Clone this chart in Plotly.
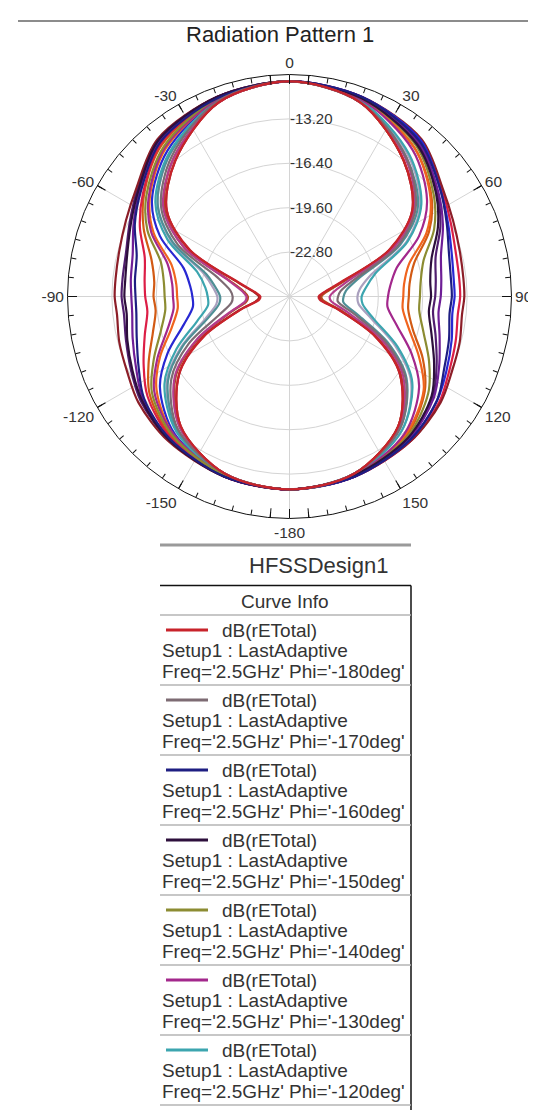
import plotly.graph_objects as go

W, H = 536, 1110

# ---------------- data ----------------
THETA_HALF = [0, 20, 40, 55, 65, 75, 84, 90, 96, 105, 115, 125, 140, 160, 180]

ANG_TICKVALS = [0, 30, 60, 90, 120, 150, 180, 210, 240, 270, 300, 330]
ANG_TICKTEXT = ['0', '30', '60', '90', '120', '150', '-180', '-150', '-120', '-90', '-60', '-30']
RAD_TICKVALS = [-22.8, -19.6, -16.4, -13.2]
RAD_TICKTEXT = ['-22.80', '-19.60', '-16.40', '-13.20']
RAD_RANGE = [-26, -10]

PHI_LABELS = ['-180', '-170', '-160', '-150', '-140', '-130', '-120', '-110', '-100', '-90',
              '-80', '-70', '-60', '-50', '-40', '-30', '-20', '-10', '0']
CURVE_COLORS = ['#c8232b', '#7d6b73', '#1e1e82', '#2d0f3c', '#8c8c32', '#a3288c', '#3ca5af',
                '#f0641e', '#2828d2', '#8c1e28', '#6e1e96', '#dc1e46', '#501e6e', '#d25a14',
                '#4f8f96', '#aaa0be', '#b43c8c', '#b4461e', '#a01e1e']
LEGEND_COUNT = 7

# dB(rETotal) at THETA_HALF, right side (theta >= 0) and left side (theta <= 0)
db_m180_r = [-10.5, -11.1, -13.2, -15.2, -18.1, -22.3, -23.6, -23.9, -23.8, -22.4, -19.2, -16.3, -13.8, -12.4, -12.1]
db_m180_l = [-10.5, -11.1, -13.2, -15.2, -18.1, -22.3, -23.6, -23.9, -23.8, -22.4, -19.2, -16.3, -13.8, -12.4, -12.1]
db_m170_r = [-10.5, -11.1, -12.9, -14.9, -17.4, -21.1, -22.3, -22.5, -22.5, -21.2, -18.4, -15.8, -13.6, -12.4, -12.1]
db_m170_l = [-10.5, -11.0, -12.8, -14.7, -17.1, -20.6, -21.7, -21.9, -21.8, -20.7, -18.0, -15.6, -13.5, -12.4, -12.1]
db_m160_r = [-10.5, -10.7, -11.4, -12.7, -13.5, -14.1, -14.3, -14.3, -14.4, -14.1, -13.7, -13.0, -12.5, -12.2, -12.1]
db_m160_l = [-10.5, -10.8, -11.5, -12.9, -13.7, -14.6, -14.8, -14.9, -14.9, -14.6, -14.0, -13.2, -12.6, -12.2, -12.1]
db_m150_r = [-10.5, -10.8, -11.7, -13.1, -14.2, -15.4, -15.8, -15.8, -15.9, -15.4, -14.5, -13.5, -12.7, -12.3, -12.1]
db_m150_l = [-10.5, -10.7, -11.3, -12.7, -13.4, -13.9, -14.1, -14.1, -14.2, -13.9, -13.5, -13.0, -12.5, -12.2, -12.1]
db_m140_r = [-10.5, -10.8, -11.8, -13.3, -14.5, -16.0, -16.5, -16.6, -16.6, -16.0, -14.9, -13.8, -12.8, -12.3, -12.1]
db_m140_l = [-10.5, -10.8, -11.9, -13.4, -14.7, -16.4, -16.9, -17.0, -17.0, -16.4, -15.2, -13.9, -12.9, -12.3, -12.1]
db_m130_r = [-10.5, -10.9, -12.2, -13.9, -15.7, -18.0, -18.7, -18.9, -18.9, -18.0, -16.3, -14.6, -13.1, -12.3, -12.1]
db_m130_l = [-10.5, -10.9, -12.0, -13.6, -15.0, -16.9, -17.5, -17.6, -17.6, -16.9, -15.5, -14.1, -13.0, -12.3, -12.1]
db_m120_r = [-10.5, -11.0, -12.6, -14.4, -16.6, -19.6, -20.5, -20.8, -20.7, -19.7, -17.4, -15.2, -13.4, -12.3, -12.1]
db_m120_l = [-10.5, -11.0, -12.5, -14.2, -16.3, -19.1, -19.9, -20.1, -20.1, -19.1, -17.0, -15.0, -13.3, -12.3, -12.1]
db_m110_r = [-10.5, -10.9, -12.0, -13.6, -15.1, -17.1, -17.7, -17.8, -17.8, -17.1, -15.7, -14.2, -13.0, -12.3, -12.1]
db_m110_l = [-10.5, -10.9, -12.1, -13.7, -15.2, -17.2, -17.8, -17.9, -17.9, -17.2, -15.7, -14.3, -13.0, -12.3, -12.1]
db_m100_r = [-10.5, -10.7, -11.3, -12.7, -13.4, -13.9, -14.1, -14.1, -14.2, -13.9, -13.5, -13.0, -12.5, -12.2, -12.1]
db_m100_l = [-10.5, -10.9, -12.3, -13.9, -15.7, -18.1, -18.8, -19.0, -19.0, -18.1, -16.3, -14.6, -13.1, -12.3, -12.1]
db_m90_r = [-10.5, -10.7, -11.2, -12.5, -13.0, -13.3, -13.4, -13.4, -13.5, -13.3, -13.1, -12.7, -12.4, -12.2, -12.1]
db_m90_l = [-10.5, -10.7, -11.2, -12.5, -13.0, -13.3, -13.4, -13.4, -13.5, -13.3, -13.1, -12.7, -12.4, -12.2, -12.1]
db_m80_r = [-10.5, -10.8, -11.5, -12.9, -13.8, -14.7, -15.0, -15.1, -15.2, -14.8, -14.1, -13.3, -12.6, -12.2, -12.1]
db_m80_l = [-10.5, -10.7, -11.4, -12.8, -13.6, -14.3, -14.5, -14.6, -14.6, -14.3, -13.8, -13.1, -12.6, -12.2, -12.1]
db_m70_r = [-10.5, -10.7, -11.3, -12.6, -13.2, -13.6, -13.7, -13.7, -13.8, -13.6, -13.3, -12.8, -12.4, -12.2, -12.1]
db_m70_l = [-10.5, -10.8, -11.6, -13.1, -14.1, -15.2, -15.5, -15.6, -15.7, -15.2, -14.4, -13.5, -12.7, -12.2, -12.1]
db_m60_r = [-10.5, -10.8, -11.6, -13.0, -14.0, -15.1, -15.4, -15.5, -15.6, -15.1, -14.3, -13.4, -12.7, -12.2, -12.1]
db_m60_l = [-10.5, -10.7, -11.3, -12.6, -13.3, -13.8, -13.9, -13.9, -14.0, -13.8, -13.4, -12.9, -12.5, -12.2, -12.1]
db_m50_r = [-10.5, -10.9, -12.0, -13.5, -14.9, -16.7, -17.3, -17.4, -17.4, -16.8, -15.4, -14.1, -12.9, -12.3, -12.1]
db_m50_l = [-10.5, -10.8, -11.7, -13.2, -14.4, -15.7, -16.2, -16.2, -16.3, -15.8, -14.8, -13.7, -12.8, -12.3, -12.1]
db_m40_r = [-10.5, -11.0, -12.9, -14.7, -17.2, -20.8, -21.9, -22.1, -22.1, -20.9, -18.2, -15.7, -13.6, -12.4, -12.1]
db_m40_l = [-10.5, -11.0, -12.6, -14.4, -16.7, -19.8, -20.7, -21.0, -20.9, -19.9, -17.5, -15.3, -13.4, -12.3, -12.1]
db_m30_r = [-10.5, -11.0, -12.7, -14.5, -16.7, -19.9, -20.9, -21.1, -21.0, -19.9, -17.6, -15.3, -13.4, -12.4, -12.1]
db_m30_l = [-10.5, -11.0, -12.6, -14.4, -16.6, -19.6, -20.5, -20.8, -20.7, -19.7, -17.4, -15.2, -13.4, -12.3, -12.1]
db_m20_r = [-10.5, -11.1, -13.0, -15.0, -17.7, -21.6, -22.8, -23.1, -23.0, -21.7, -18.7, -16.0, -13.7, -12.4, -12.1]
db_m20_l = [-10.5, -11.1, -13.0, -14.9, -17.6, -21.4, -22.6, -22.9, -22.8, -21.5, -18.6, -15.9, -13.7, -12.4, -12.1]
db_m10_r = [-10.5, -11.1, -13.2, -15.1, -18.0, -22.1, -23.4, -23.7, -23.6, -22.2, -19.1, -16.2, -13.8, -12.4, -12.1]
db_m10_l = [-10.5, -11.1, -13.0, -15.0, -17.6, -21.5, -22.7, -23.0, -22.9, -21.6, -18.7, -16.0, -13.7, -12.4, -12.1]
db_p0_r = [-10.5, -11.1, -13.2, -15.2, -18.0, -22.2, -23.5, -23.8, -23.7, -22.3, -19.1, -16.3, -13.8, -12.4, -12.1]
db_p0_l = [-10.5, -11.1, -13.2, -15.2, -18.0, -22.2, -23.5, -23.8, -23.7, -22.3, -19.1, -16.3, -13.8, -12.4, -12.1]

RIGHT_SIDES = [db_m180_r, db_m170_r, db_m160_r, db_m150_r, db_m140_r, db_m130_r, db_m120_r,
               db_m110_r, db_m100_r, db_m90_r, db_m80_r, db_m70_r, db_m60_r, db_m50_r,
               db_m40_r, db_m30_r, db_m20_r, db_m10_r, db_p0_r]
LEFT_SIDES = [db_m180_l, db_m170_l, db_m160_l, db_m150_l, db_m140_l, db_m130_l, db_m120_l,
              db_m110_l, db_m100_l, db_m90_l, db_m80_l, db_m70_l, db_m60_l, db_m50_l,
              db_m40_l, db_m30_l, db_m20_l, db_m10_l, db_p0_l]

# ---------------- helpers ----------------
def px(x):
    return x / W


def py(y):
    return 1 - y / H


FONT = 'Arial, Liberation Sans, sans-serif'

fig = go.Figure()

theta_full = THETA_HALF + [-t for t in THETA_HALF[-2::-1]]

order = list(range(len(PHI_LABELS)))[::-1]
for i in order:
    r_full = RIGHT_SIDES[i] + LEFT_SIDES[i][-2::-1]
    fig.add_trace(go.Scatterpolar(
        r=r_full, theta=theta_full, mode='lines',
        line=dict(color=CURVE_COLORS[i], width=2.2, shape='spline', smoothing=0.9),
        name="Phi='%sdeg'" % PHI_LABELS[i], showlegend=False, subplot='polar',
        hoverinfo='skip'))

# overlay subplots for minor / bracket ticks
fig.add_trace(go.Scatterpolar(r=[None], theta=[None], subplot='polar2', showlegend=False, hoverinfo='skip'))
fig.add_trace(go.Scatterpolar(r=[None], theta=[None], subplot='polar3', showlegend=False, hoverinfo='skip'))

dom_x = [px(59.5), px(503.5)]
dom_y = [py(510.5), py(66.5)]

fig.update_layout(
    width=W, height=H, margin=dict(l=0, r=0, t=0, b=0),
    paper_bgcolor='white', showlegend=False,
    font=dict(family=FONT, color='#333333'),
    polar=dict(
        domain=dict(x=dom_x, y=dom_y), bgcolor='white',
        radialaxis=dict(range=RAD_RANGE, tickmode='array', tickvals=RAD_TICKVALS, ticktext=RAD_TICKTEXT,
                        angle=90, tickangle=90, showline=False, ticks='', gridcolor='#d4d4d4', gridwidth=1,
                        side='clockwise', tickfont=dict(size=15, color='#333333', family=FONT)),
        angularaxis=dict(rotation=90, direction='clockwise', tickmode='array', tickvals=ANG_TICKVALS,
                         ticktext=ANG_TICKTEXT, ticks='inside', ticklen=9, tickcolor='#111111',
                         showline=True, linecolor='#111111', linewidth=1, gridcolor='#d4d4d4',
                         tickfont=dict(size=15.5, color='#333333', family=FONT)),
    ),
    polar2=dict(
        domain=dict(x=dom_x, y=dom_y), bgcolor='rgba(0,0,0,0)',
        radialaxis=dict(range=RAD_RANGE, visible=False),
        angularaxis=dict(rotation=90, direction='clockwise', tickmode='array',
                         tickvals=list(range(0, 360, 5)), ticks='inside', ticklen=5, tickcolor='#111111',
                         showticklabels=False, showgrid=False, showline=False),
    ),
    polar3=dict(
        domain=dict(x=dom_x, y=dom_y), bgcolor='rgba(0,0,0,0)',
        radialaxis=dict(range=RAD_RANGE, visible=False),
        angularaxis=dict(rotation=90, direction='clockwise', tickmode='array',
                         tickvals=[5, 355, 175, 185], ticks='inside', ticklen=9, tickcolor='#111111',
                         showticklabels=False, showgrid=False, showline=False),
    ),
)

shapes = []
annotations = []

# top rule and title
shapes.append(dict(type='line', xref='paper', yref='paper', x0=px(10), x1=px(536), y0=py(13), y1=py(13),
                   line=dict(color='#8c8c8c', width=2)))
annotations.append(dict(text='Radiation Pattern 1', xref='paper', yref='paper', x=px(272), y=py(27),
                        xanchor='center', yanchor='middle', showarrow=False,
                        font=dict(size=22, color='#222222', family=FONT)))

# legend table ("Curve Info")
TL, TR = 152, 403
shapes.append(dict(type='line', xref='paper', yref='paper', x0=px(TL), x1=px(TR), y0=py(537), y1=py(537),
                   line=dict(color='#9a9a9a', width=3)))
annotations.append(dict(text='HFSSDesign1', xref='paper', yref='paper', x=px(310), y=py(557),
                        xanchor='center', yanchor='middle', showarrow=False,
                        font=dict(size=22, color='#333333', family=FONT)))
shapes.append(dict(type='line', xref='paper', yref='paper', x0=px(TL), x1=px(TR), y0=py(577.5), y1=py(577.5),
                   line=dict(color='#111111', width=1.5)))
shapes.append(dict(type='line', xref='paper', yref='paper', x0=px(TR), x1=px(TR), y0=py(577.5), y1=py(1110),
                   line=dict(color='#111111', width=1.5)))
annotations.append(dict(text='Curve Info', xref='paper', yref='paper', x=px(277), y=py(593),
                        xanchor='center', yanchor='middle', showarrow=False,
                        font=dict(size=19, color='#333333', family=FONT)))
shapes.append(dict(type='line', xref='paper', yref='paper', x0=px(TL), x1=px(TR), y0=py(607), y1=py(607),
                   line=dict(color='#b4b4b4', width=1.5)))

for k in range(LEGEND_COUNT):
    y0 = 622 + 70 * k
    shapes.append(dict(type='line', xref='paper', yref='paper', x0=px(158), x1=px(200), y0=py(y0), y1=py(y0),
                       line=dict(color=CURVE_COLORS[k], width=3)))
    annotations.append(dict(text='dB(rETotal)', xref='paper', yref='paper', x=px(212), y=py(y0),
                            xanchor='left', yanchor='middle', showarrow=False,
                            font=dict(size=19, color='#333333', family=FONT)))
    annotations.append(dict(text='Setup1 : LastAdaptive', xref='paper', yref='paper', x=px(152), y=py(y0 + 20.5),
                            xanchor='left', yanchor='middle', showarrow=False,
                            font=dict(size=19, color='#333333', family=FONT)))
    annotations.append(dict(text="Freq='2.5GHz' Phi='%sdeg'" % PHI_LABELS[k], xref='paper', yref='paper',
                            x=px(152), y=py(y0 + 41), xanchor='left', yanchor='middle', showarrow=False,
                            font=dict(size=19, color='#333333', family=FONT)))
    shapes.append(dict(type='line', xref='paper', yref='paper', x0=px(TL), x1=px(TR),
                       y0=py(y0 + 55), y1=py(y0 + 55), line=dict(color='#b4b4b4', width=1.5)))

fig.update_layout(shapes=shapes, annotations=annotations)

fig.write_html('out.html')
